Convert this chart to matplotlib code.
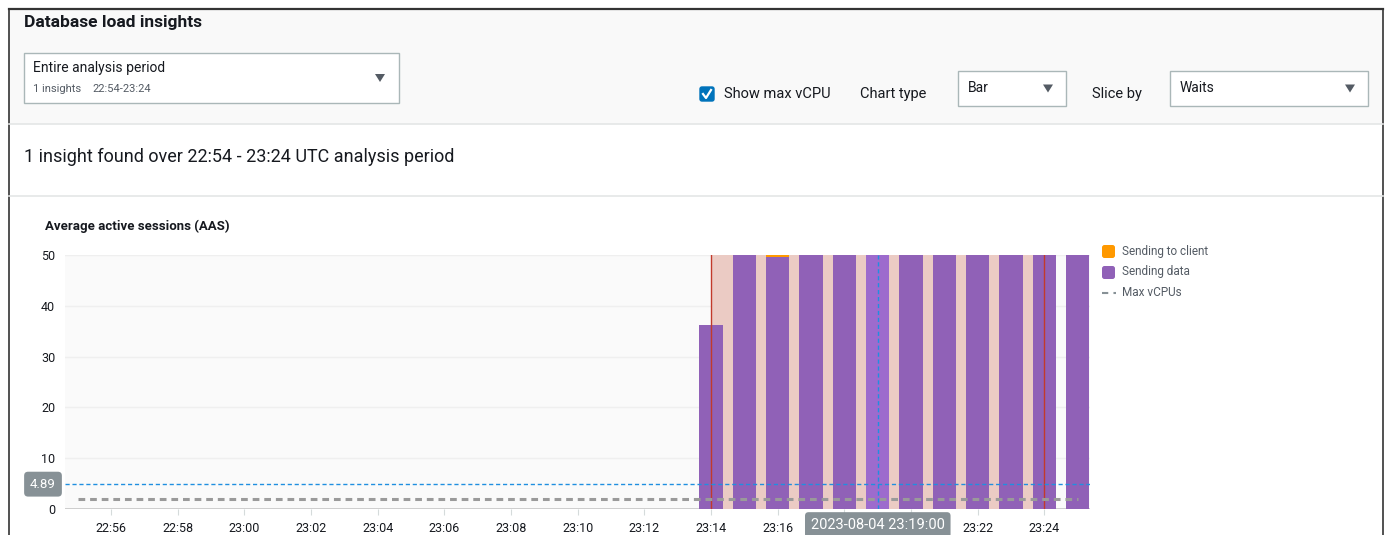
import numpy as np
import pandas as pd
import matplotlib
matplotlib.use("Agg")
import matplotlib.pyplot as plt
import matplotlib.dates as mdates
from matplotlib.patches import Rectangle, FancyBboxPatch, Polygon

plt.rcParams['font.family'] = ['Roboto', 'DejaVu Sans']

# Data -------------------------------------------------------------------
barTimes = pd.date_range("2023-08-04 23:14", "2023-08-04 23:25", freq="1min")
sendingData = [36.2, 55.0, 49.7, 55.0, 55.0, 55.0, 55.0, 55.0, 55.0, 55.0, 55.0, 55.0]
sendingToClient = [0.0, 0.4, 0.6, 0.4, 0.4, 0.4, 0.4, 0.4, 0.4, 0.4, 0.4, 0.4]
maxVcpus = 2
hoverValue = 4.89
hoverTime = pd.Timestamp("2023-08-04 23:19")
insightStart = pd.Timestamp("2023-08-04 23:14")
insightEnd = pd.Timestamp("2023-08-04 23:24")
vcpuStart = pd.Timestamp("2023-08-04 22:55")
vcpuEnd = pd.Timestamp("2023-08-04 23:25")
xStart = pd.Timestamp("2023-08-04 22:54:37")
xEnd = pd.Timestamp("2023-08-04 23:25:22")
tickTimes = pd.date_range("2023-08-04 22:56", "2023-08-04 23:24", freq="2min")
yTicks = [0, 10, 20, 30, 40, 50]

W, H = 1386, 535
TEXT = "#16191f"
GREY = "#545b64"
PURPLE = "#9061b7"
PURPLE_HI = "#9d6bcd"
ORANGE = "#ff9900"
PINK = "#ebcbc4"
RED = "#c23a2b"
BLUE = "#1f8fe0"

fig = plt.figure(figsize=(W / 100, H / 100), dpi=100)
fig.patch.set_facecolor("white")

# Page layer in pixel coordinates
ui = fig.add_axes([0, 0, 1, 1], zorder=0)
ui.set_xlim(0, W)
ui.set_ylim(H, 0)
ui.axis("off")

ui.add_patch(Rectangle((9, 9), 1374, 115, facecolor="#f9f9f9", edgecolor="none"))
ui.plot([9, 1383], [9, 9], color="#333333", lw=1.6)
ui.plot([9, 9], [9, H], color="#333333", lw=1.2)
ui.plot([1383, 1383], [9, H], color="#333333", lw=1.2)
ui.plot([9, 1383], [124, 124], color="#e4e6e6", lw=1.2)
ui.plot([9, 1383], [196, 196], color="#e4e6e6", lw=1.2)

ui.text(24, 22, "Database load insights", fontsize=12.5, fontweight="bold",
        color=TEXT, va="center")


def dropdown(x0, y0, x1, y1, label, arrowX):
    ui.add_patch(Rectangle((x0, y0), x1 - x0, y1 - y0, facecolor="white",
                           edgecolor="#aab7b8", lw=1))
    ui.add_patch(Polygon([[arrowX - 5, (y0 + y1) / 2 - 4], [arrowX + 5, (y0 + y1) / 2 - 4],
                          [arrowX, (y0 + y1) / 2 + 4]], closed=True,
                         facecolor="#545b64", edgecolor="none"))
    if label:
        ui.text(x0 + 10, (y0 + y1) / 2 - 1, label, fontsize=10, color=TEXT, va="center")


dropdown(24, 53, 399, 103, None, 380)
ui.text(33, 68, "Entire analysis period", fontsize=10, color=TEXT, va="center")
ui.text(33, 89, "1 insights", fontsize=8, color=GREY, va="center")
ui.text(92, 89, "22:54-23:24", fontsize=8, color=GREY, va="center")

ui.add_patch(FancyBboxPatch((700, 87), 14, 14, boxstyle="round,pad=0,rounding_size=2",
                            facecolor="#0073bb", edgecolor="#0073bb"))
ui.plot([703, 706, 711], [94, 98, 90], color="white", lw=1.6)
ui.text(724, 94, "Show max vCPU", fontsize=10.5, color=TEXT, va="center")
ui.text(860, 94, "Chart type", fontsize=10.5, color=TEXT, va="center")
dropdown(958, 71, 1066, 106, "Bar", 1048)
ui.text(1092, 94, "Slice by", fontsize=10.5, color=TEXT, va="center")
dropdown(1170, 71, 1368, 106, "Waits", 1350)

ui.text(24, 157, "1 insight found over 22:54 - 23:24 UTC analysis period",
        fontsize=13, color=TEXT, va="center")
ui.text(45, 226, "Average active sessions (AAS)", fontsize=9.5, fontweight="bold",
        color=TEXT, va="center")

# Legend
ui.add_patch(FancyBboxPatch((1102, 245), 13, 13, boxstyle="round,pad=0,rounding_size=2.5",
                            facecolor=ORANGE, edgecolor="none"))
ui.text(1122, 251, "Sending to client", fontsize=8.5, color=GREY, va="center")
ui.add_patch(FancyBboxPatch((1102, 266), 13, 13, boxstyle="round,pad=0,rounding_size=2.5",
                            facecolor=PURPLE, edgecolor="none"))
ui.text(1122, 272, "Sending data", fontsize=8.5, color=GREY, va="center")
ui.plot([1102, 1116], [293, 293], color="#879196", lw=1.5, ls=(0, (3, 2.5)))
ui.text(1122, 293, "Max vCPUs", fontsize=8.5, color=GREY, va="center")

# Chart ------------------------------------------------------------------
ax = fig.add_axes([65 / W, (H - 509) / H, (1090 - 65) / W, (509 - 255) / H], zorder=2)
ax.set_facecolor("#fafafa")
for s in ax.spines.values():
    s.set_visible(False)

ax.set_ylim(0, 50)
ax.set_xlim(xStart, xEnd)
ax.set_yticks(yTicks)
ax.yaxis.grid(True, color="#efefef", lw=1)
ax.set_axisbelow(True)
ax.axhline(0, color="#c9c9c9", lw=2, zorder=1)

ax.axvspan(insightStart, insightEnd, color=PINK, lw=0, zorder=1)

barWidth = 0.7 / 1440
colors = [PURPLE_HI if t == hoverTime else PURPLE for t in barTimes]
ax.bar(barTimes, sendingData, width=barWidth, color=colors, zorder=2, lw=0)
ax.bar(barTimes, sendingToClient, bottom=sendingData, width=barWidth, color=ORANGE,
       zorder=2, lw=0)

ax.axvline(insightStart, color=RED, lw=1, zorder=3)
ax.axvline(insightEnd, color=RED, lw=1, zorder=3)

ax.plot([vcpuStart, vcpuEnd], [maxVcpus, maxVcpus], color="#9a9a9a", lw=2.2,
        ls=(0, (2.2, 1.6)), zorder=4)
ax.axhline(hoverValue, color=BLUE, lw=1, ls=(0, (3, 2)), zorder=4)
ax.axvline(hoverTime, color=BLUE, lw=1, ls=(0, (3, 2)), zorder=4)

# the hover timestamp sits over the labels next to it, so leave those blank
tickLabels = ["" if abs((t - hoverTime).total_seconds()) <= 60 else t.strftime("%H:%M")
              for t in tickTimes]
ax.set_xticks(tickTimes)
ax.set_xticklabels(tickLabels)
ax.tick_params(axis="x", length=4, color="#d5dbdb", labelsize=9, labelcolor=TEXT, pad=5)
ax.tick_params(axis="y", length=0, labelsize=9, labelcolor=TEXT, pad=7)

# Hover readouts
ax.annotate(f"{hoverValue}", xy=(0, hoverValue), xycoords=("axes fraction", "data"),
            xytext=(-22, 0), textcoords="offset pixels", ha="center", va="center",
            fontsize=9.5, color="white", annotation_clip=False, zorder=6,
            bbox=dict(boxstyle="round,pad=0.45,rounding_size=0.3", fc="#879196", ec="none"))
ax.annotate(hoverTime.strftime("%Y-%m-%d %H:%M:%S"), xy=(hoverTime, 0),
            xycoords=("data", "axes fraction"), xytext=(0, -16), textcoords="offset pixels",
            ha="center", va="center", fontsize=10.5, color="white", annotation_clip=False,
            zorder=6,
            bbox=dict(boxstyle="round,pad=0.4,rounding_size=0.25", fc="#879196", ec="none"))

fig.savefig("out.png", dpi=100)
